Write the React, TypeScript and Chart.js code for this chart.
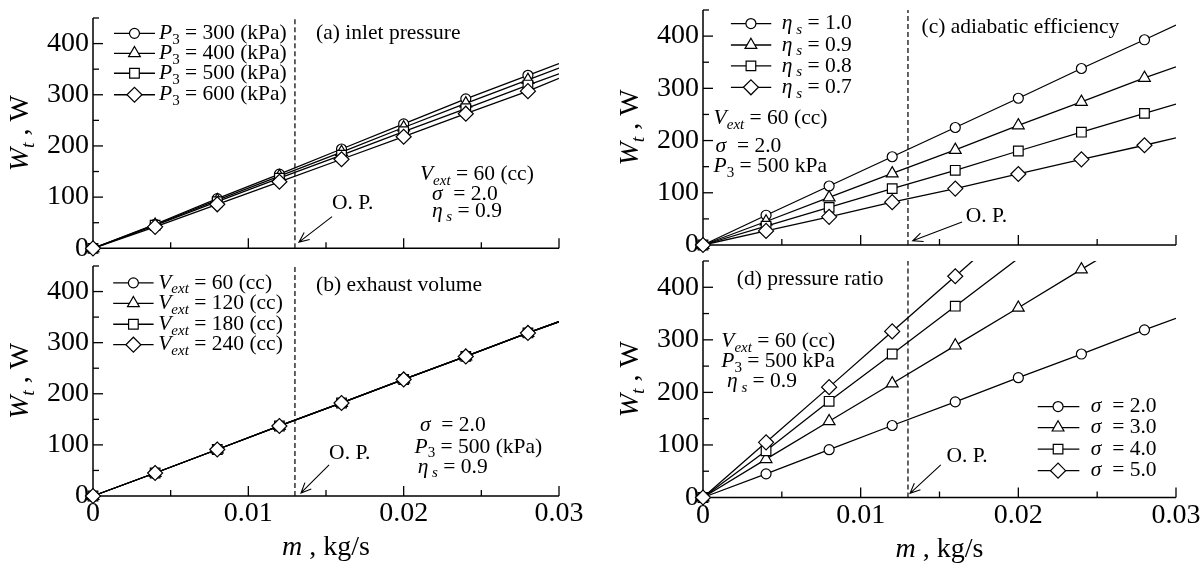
import React, { useEffect, useRef } from 'react';
import { Chart, registerables } from 'chart.js';

Chart.register(...registerables);

const FONT = "'Liberation Serif', 'Times New Roman', Times, serif";

// ---------- data ----------
// mass flow rate m (kg/s); the last entry of each list only carries the line on (no marker)
const MASS_FLOW = [0, 0.004, 0.008, 0.012, 0.016, 0.02, 0.024, 0.028, 0.03];
const MASS_FLOW_SIGMA3 = [0, 0.004, 0.008, 0.012, 0.016, 0.02, 0.024, 0.028];
const MASS_FLOW_SIGMA45 = [0, 0.004, 0.008, 0.012, 0.016, 0.02];

// (a) inlet pressure, Wt (W)
const W_P300 = [0, 47, 97, 145, 194, 243, 292, 338, 361];
const W_P400 = [0, 46, 94, 141, 188, 236, 283, 329, 352];
const W_P500 = [0, 45, 91, 137, 182, 228, 273, 319, 341];
const W_P600 = [0, 42, 86, 130, 174, 218, 263, 307, 332];

// (b) exhaust volume
const W_V60 = [0, 45, 91, 137, 182, 228, 273, 319, 341];
const W_V120 = [0, 45, 91, 137, 182, 228, 273, 319, 341];
const W_V180 = [0, 45, 91, 137, 182, 228, 273, 319, 341];
const W_V240 = [0, 45, 91, 137, 182, 228, 273, 319, 341];

// (c) adiabatic efficiency
const W_ETA10 = [0, 57, 113, 169, 225, 281, 338, 393, 421];
const W_ETA09 = [0, 45, 91, 137, 182, 229, 274, 320, 341];
const W_ETA08 = [0, 36, 72, 108, 143, 180, 216, 252, 270];
const W_ETA07 = [0, 27, 54, 82, 108, 136, 164, 191, 205];

// (d) pressure ratio
const W_S2 = [0, 45, 91, 137, 182, 228, 273, 319, 341];
const W_S3 = [0, 73, 145, 217, 289, 361, 434, 506];
const W_S4 = [0, 89, 183, 273, 364, 455];
const W_S5 = [0, 105, 210, 316, 421, 527];

const Y_TICKS = [0, 100, 200, 300, 400];
const Y_MINOR_TICKS = [50, 150, 250, 350, 450];
const X_TICKS = [0, 0.01, 0.02, 0.03];
const X_MINOR_TICKS = [0.005, 0.015, 0.025];
const X_MIN = 0, X_MAX = 0.03, Y_MIN = 0, Y_MAX = 450;
const OPERATING_POINT = 0.013;

// ---------- presentation ----------
const RADIUS: Record<string, number> = { circle: 5, triangle: 6.8, rect: 6.8, rectRot: 7.5 };
const TEXT_SIZE = 21.5;
const TICK_SIZE = 28;

type Seg = { t: string; i?: boolean; sub?: boolean };
const P3 = (rest: string): Seg[] => [{ t: 'P', i: true }, { t: '3', sub: true }, { t: rest }];
const VEXT = (rest: string): Seg[] => [{ t: 'V', i: true }, { t: 'ext', i: true, sub: true }, { t: rest }];
const ETA = (rest: string): Seg[] => [{ t: 'η', i: true }, { t: ' s', i: true, sub: true }, { t: rest }];
const SIGMA = (rest: string): Seg[] => [{ t: 'σ', i: true }, { t: '  ' + rest }];

const PANELS = [
  {
    key: 'a',
    box: { left: 0, top: 0, width: 600, height: 290 },
    area: { l: 93, t: 18, r: 559, b: 248.3 },
    showX: false,
    series: [
      { label: P3(' = 300 (kPa)'), x: MASS_FLOW, y: W_P300, style: 'circle' },
      { label: P3(' = 400 (kPa)'), x: MASS_FLOW, y: W_P400, style: 'triangle' },
      { label: P3(' = 500 (kPa)'), x: MASS_FLOW, y: W_P500, style: 'rect' },
      { label: P3(' = 600 (kPa)'), x: MASS_FLOW, y: W_P600, style: 'rectRot' },
    ],
    legend: { x1: 0.00135, x2: 0.00399, mx: 0.00267, tx: 0.00425, ys: [420, 381, 342, 300] },
    notes: [
      { segs: [{ t: '(a) inlet pressure' }], x: 0.01436, y: 420 },
      { segs: VEXT(' = 60 (cc)'), x: 0.02105, y: 144 },
      { segs: SIGMA('= 2.0'), x: 0.02182, y: 106 },
      { segs: ETA(' = 0.9'), x: 0.02182, y: 73 },
      { segs: [{ t: 'O. P.' }], x: 0.01539, y: 88 },
    ],
    arrow: [0.01539, 62, 0.01326, 12],
  },
  {
    key: 'b',
    box: { left: 0, top: 250, width: 600, height: 313 },
    area: { l: 93, t: 266, r: 559, b: 496 },
    showX: true,
    series: [
      { label: VEXT(' = 60 (cc)'), x: MASS_FLOW, y: W_V60, style: 'circle' },
      { label: VEXT(' = 120 (cc)'), x: MASS_FLOW, y: W_V120, style: 'triangle' },
      { label: VEXT(' = 180 (cc)'), x: MASS_FLOW, y: W_V180, style: 'rect' },
      { label: VEXT(' = 240 (cc)'), x: MASS_FLOW, y: W_V240, style: 'rectRot' },
    ],
    legend: { x1: 0.0013, x2: 0.0039, mx: 0.0026, tx: 0.0042, ys: [417, 377, 336, 296] },
    notes: [
      { segs: [{ t: '(b) exhaust volume' }], x: 0.01436, y: 413 },
      { segs: SIGMA('= 2.0'), x: 0.02105, y: 139 },
      { segs: P3(' = 500 (kPa)'), x: 0.0207, y: 96 },
      { segs: ETA(' = 0.9'), x: 0.0209, y: 57 },
      { segs: [{ t: 'O. P.' }], x: 0.0152, y: 84 },
    ],
    arrow: [0.0152, 61, 0.01339, 6],
  },
  {
    key: 'c',
    box: { left: 600, top: 0, width: 604, height: 290 },
    area: { l: 703, t: 10, r: 1176, b: 245 },
    showX: false,
    series: [
      { label: ETA(' = 1.0'), x: MASS_FLOW, y: W_ETA10, style: 'circle' },
      { label: ETA(' = 0.9'), x: MASS_FLOW, y: W_ETA09, style: 'triangle' },
      { label: ETA(' = 0.8'), x: MASS_FLOW, y: W_ETA08, style: 'rect' },
      { label: ETA(' = 0.7'), x: MASS_FLOW, y: W_ETA07, style: 'rectRot' },
    ],
    legend: { x1: 0.00177, x2: 0.00433, mx: 0.00304, tx: 0.005, ys: [424, 383, 343, 302] },
    notes: [
      { segs: [{ t: '(c) adiabatic efficiency' }], x: 0.01386, y: 417 },
      { segs: VEXT(' = 60 (cc)'), x: 0.00067, y: 243 },
      { segs: SIGMA('= 2.0'), x: 0.0008, y: 188 },
      { segs: P3(' = 500 kPa'), x: 0.00067, y: 150 },
      { segs: [{ t: 'O. P.' }], x: 0.01667, y: 54 },
    ],
    arrow: [0.01643, 44, 0.0133, 8],
  },
  {
    key: 'd',
    box: { left: 600, top: 250, width: 604, height: 313 },
    area: { l: 703, t: 261, r: 1176, b: 497.5 },
    showX: true,
    series: [
      { label: SIGMA('= 2.0'), x: MASS_FLOW, y: W_S2, style: 'circle' },
      { label: SIGMA('= 3.0'), x: MASS_FLOW_SIGMA3, y: W_S3, style: 'triangle' },
      { label: SIGMA('= 4.0'), x: MASS_FLOW_SIGMA45, y: W_S4, style: 'rect' },
      { label: SIGMA('= 5.0'), x: MASS_FLOW_SIGMA45, y: W_S5, style: 'rectRot' },
    ],
    legend: { x1: 0.02123, x2: 0.02387, mx: 0.02252, tx: 0.0246, ys: [173, 133, 92, 51] },
    notes: [
      { segs: [{ t: '(d) pressure ratio' }], x: 0.00214, y: 415 },
      { segs: VEXT(' = 60 (cc)'), x: 0.00116, y: 297 },
      { segs: P3(' = 500 kPa'), x: 0.00116, y: 259 },
      { segs: ETA(' = 0.9'), x: 0.00152, y: 221 },
      { segs: [{ t: 'O. P.' }], x: 0.01544, y: 78 },
    ],
    arrow: [0.01508, 62, 0.01313, 8],
  },
];

function drawMarker(ctx: CanvasRenderingContext2D, style: string, x: number, y: number) {
  const r = RADIUS[style];
  ctx.beginPath();
  if (style === 'circle') {
    ctx.arc(x, y, r, 0, Math.PI * 2);
  } else if (style === 'triangle') {
    let a = 0;
    ctx.moveTo(x + Math.sin(a) * r, y - Math.cos(a) * r);
    a += (Math.PI * 2) / 3;
    ctx.lineTo(x + Math.sin(a) * r, y - Math.cos(a) * r);
    a += (Math.PI * 2) / 3;
    ctx.lineTo(x + Math.sin(a) * r, y - Math.cos(a) * r);
    ctx.closePath();
  } else if (style === 'rect') {
    const s = Math.SQRT1_2 * r;
    ctx.rect(x - s, y - s, 2 * s, 2 * s);
  } else {
    ctx.moveTo(x - r, y);
    ctx.lineTo(x, y - r);
    ctx.lineTo(x + r, y);
    ctx.lineTo(x, y + r);
    ctx.closePath();
  }
  ctx.fillStyle = '#fff';
  ctx.fill();
  ctx.lineWidth = 1.2;
  ctx.strokeStyle = '#000';
  ctx.stroke();
}

function drawRich(ctx: CanvasRenderingContext2D, segs: Seg[], x: number, y: number, size: number, align = 'left') {
  const parts = segs.map((s) => {
    const fs = s.sub ? size * 0.7 : size;
    const font = `${s.i ? 'italic ' : ''}${fs}px ${FONT}`;
    ctx.font = font;
    return { s, font, w: ctx.measureText(s.t).width };
  });
  const total = parts.reduce((acc, p) => acc + p.w, 0);
  let cx = align === 'center' ? x - total / 2 : x;
  ctx.textAlign = 'left';
  ctx.textBaseline = 'middle';
  ctx.fillStyle = '#000';
  for (const p of parts) {
    ctx.font = p.font;
    ctx.fillText(p.s.t, cx, y + (p.s.sub ? size * 0.3 : 0));
    cx += p.w;
  }
}

function decorPlugin(p: any) {
  return {
    id: 'decor' + p.key,
    beforeDatasetsDraw(chart: any) {
      const { ctx, chartArea: a, scales } = chart;
      const xs = scales.x, ys = scales.y;
      const seg = (x1: number, y1: number, x2: number, y2: number) => {
        ctx.beginPath();
        ctx.moveTo(x1, y1);
        ctx.lineTo(x2, y2);
        ctx.stroke();
      };
      ctx.save();
      ctx.strokeStyle = '#000';
      ctx.lineWidth = 1.5;
      ctx.beginPath();
      ctx.moveTo(a.left, a.top);
      ctx.lineTo(a.left, a.bottom);
      ctx.lineTo(a.right, a.bottom);
      ctx.stroke();
      ctx.lineWidth = 1.3;
      Y_TICKS.forEach((v) => { if (v !== 0) { const py = ys.getPixelForValue(v); seg(a.left, py, a.left + 10, py); } });
      Y_MINOR_TICKS.forEach((v) => { const py = ys.getPixelForValue(v); seg(a.left, py, a.left + 6, py); });
      X_TICKS.forEach((v) => { if (v !== 0) { const px = xs.getPixelForValue(v); seg(px, a.bottom, px, a.bottom - 10); } });
      X_MINOR_TICKS.forEach((v) => { const px = xs.getPixelForValue(v); seg(px, a.bottom, px, a.bottom - 6); });
      const ox = xs.getPixelForValue(OPERATING_POINT);
      ctx.setLineDash([5, 3]);
      ctx.lineWidth = 1.3;
      ctx.strokeStyle = '#111';
      seg(ox, a.bottom, ox, a.top);
      ctx.setLineDash([]);
      ctx.restore();
    },
    afterDraw(chart: any) {
      const { ctx, chartArea: a, scales } = chart;
      const xs = scales.x, ys = scales.y;
      const X = (v: number) => xs.getPixelForValue(v);
      const Y = (v: number) => ys.getPixelForValue(v);
      ctx.save();
      // legend
      const lg = p.legend;
      p.series.forEach((s: any, i: number) => {
        const py = Y(lg.ys[i]);
        ctx.strokeStyle = '#000';
        ctx.lineWidth = 1.3;
        ctx.beginPath();
        ctx.moveTo(X(lg.x1), py);
        ctx.lineTo(X(lg.x2), py);
        ctx.stroke();
        drawMarker(ctx, s.style, X(lg.mx), py);
        drawRich(ctx, s.label, X(lg.tx), py, TEXT_SIZE);
      });
      // notes
      p.notes.forEach((n: any) => drawRich(ctx, n.segs, X(n.x), Y(n.y), TEXT_SIZE));
      // arrow
      const [ax1, ay1, ax2, ay2] = p.arrow;
      const x1 = X(ax1), y1 = Y(ay1), x2 = X(ax2), y2 = Y(ay2);
      ctx.strokeStyle = '#000';
      ctx.lineWidth = 1.1;
      ctx.beginPath();
      ctx.moveTo(x1, y1);
      ctx.lineTo(x2, y2);
      const ang = Math.atan2(y2 - y1, x2 - x1);
      const hl = 11, ha = 0.42;
      ctx.moveTo(x2 - hl * Math.cos(ang - ha), y2 - hl * Math.sin(ang - ha));
      ctx.lineTo(x2, y2);
      ctx.lineTo(x2 - hl * Math.cos(ang + ha), y2 - hl * Math.sin(ang + ha));
      ctx.stroke();
      // y title
      ctx.save();
      ctx.translate(a.left - 72.5, (a.top + a.bottom) / 2);
      ctx.rotate(-Math.PI / 2);
      drawRich(ctx, [{ t: 'W', i: true }, { t: 't', i: true, sub: true }, { t: ' , W' }], 0, 0, 28, 'center');
      ctx.restore();
      // x title
      if (p.showX) {
        drawRich(ctx, [{ t: 'm', i: true }, { t: ' , kg/s' }], (a.left + a.right) / 2, a.bottom + 52, 28, 'center');
      }
      ctx.restore();
    },
  };
}

function buildConfig(p: any): any {
  const padTop = p.area.t - p.box.top;
  const padRight = p.box.left + p.box.width - p.area.r;
  const yWidth = p.area.l - p.box.left;
  const xHeight = p.box.top + p.box.height - p.area.b;
  const n = p.series.length;
  return {
    type: 'line',
    data: {
      datasets: p.series.map((s: any, k: number) => ({
        data: s.x.map((x: number, i: number) => ({ x, y: s.y[i] })),
        order: n - 1 - k,
        borderColor: '#000',
        borderWidth: 1.3,
        pointStyle: s.style,
        pointRadius: (c: any) => (c.dataIndex < s.x.length - 1 ? RADIUS[s.style] : 0),
        pointBackgroundColor: '#fff',
        pointBorderColor: '#000',
        pointBorderWidth: 1.2,
        fill: false,
        tension: 0,
        clip: { left: 15, bottom: 15, top: 0, right: 0 },
      })),
    },
    options: {
      responsive: false,
      animation: false,
      events: [],
      layout: { padding: { left: 0, top: padTop, right: padRight, bottom: 0 } },
      plugins: { legend: { display: false }, tooltip: { enabled: false }, title: { display: false } },
      scales: {
        x: {
          type: 'linear',
          min: X_MIN,
          max: X_MAX,
          grid: { display: false, drawTicks: false },
          border: { display: false },
          afterBuildTicks: (sc: any) => { sc.ticks = X_TICKS.map((value) => ({ value })); },
          afterFit: (sc: any) => { sc.height = xHeight; sc.paddingLeft = 0; sc.paddingRight = 0; },
          ticks: {
            display: p.showX,
            autoSkip: false,
            maxRotation: 0,
            color: '#000',
            padding: 1,
            font: { family: FONT, size: TICK_SIZE },
            callback: (v: number) => String(v),
          },
        },
        y: {
          type: 'linear',
          min: Y_MIN,
          max: Y_MAX,
          grid: { display: false, drawTicks: false },
          border: { display: false },
          afterBuildTicks: (sc: any) => { sc.ticks = Y_TICKS.map((value) => ({ value })); },
          afterFit: (sc: any) => { sc.width = yWidth; sc.paddingTop = 0; sc.paddingBottom = 0; },
          ticks: {
            color: '#000',
            padding: 4,
            font: { family: FONT, size: TICK_SIZE },
            callback: (v: number) => String(v),
          },
        },
      },
    },
    plugins: [decorPlugin(p)],
  };
}

function PanelChart({ panel }: { panel: any }) {
  const ref = useRef<HTMLCanvasElement>(null);
  useEffect(() => {
    if (!ref.current) return;
    const chart = new Chart(ref.current, buildConfig(panel));
    return () => chart.destroy();
  }, [panel]);
  const b = panel.box;
  return (
    <canvas
      ref={ref}
      width={b.width}
      height={b.height}
      style={{ position: 'absolute', left: b.left, top: b.top, width: b.width, height: b.height }}
    />
  );
}

export default function App() {
  return (
    <div style={{ position: 'absolute', left: 0, top: 0, width: 1204, height: 563, background: '#fff', overflow: 'hidden' }}>
      {PANELS.map((p) => (
        <PanelChart key={p.key} panel={p} />
      ))}
    </div>
  );
}
